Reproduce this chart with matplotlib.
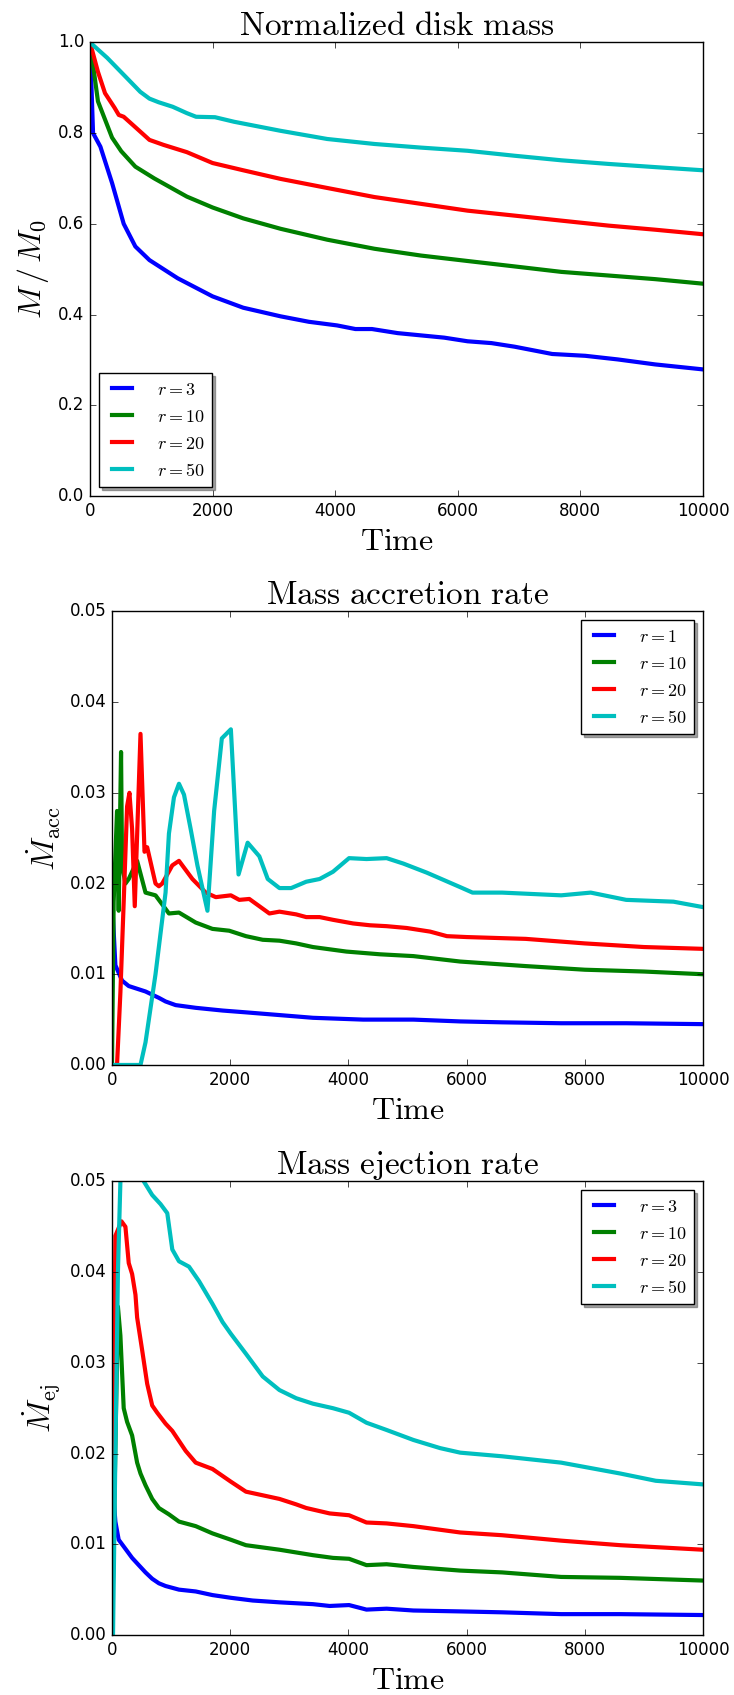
import numpy as np
import matplotlib
matplotlib.use('Agg')
import matplotlib.pyplot as plt

plt.style.use('classic')
plt.rcParams['mathtext.fontset'] = 'cm'

# ---- panel 1: normalized disk mass ----
t_m3 = [0, 50, 170, 360, 550, 740, 970, 1430, 2000, 2500, 3110, 3570, 4030, 4330,
        4600, 5020, 5780, 6160, 6550, 6930, 7540, 8080, 8610, 9220, 10000]
m3 = [1.0, 0.80, 0.77, 0.69, 0.60, 0.55, 0.52, 0.48, 0.44, 0.415, 0.396, 0.384,
      0.376, 0.368, 0.368, 0.359, 0.349, 0.341, 0.337, 0.329, 0.313, 0.309, 0.301,
      0.29, 0.279]
t_m10 = [0, 130, 360, 510, 740, 1050, 1580, 2000, 2500, 3110, 3870, 4640, 5400,
         6160, 6930, 7690, 8460, 9220, 10000]
m10 = [1.0, 0.87, 0.79, 0.76, 0.726, 0.70, 0.66, 0.636, 0.612, 0.589, 0.565, 0.545,
       0.53, 0.518, 0.506, 0.494, 0.486, 0.478, 0.468]
t_m20 = [0, 130, 245, 400, 470, 550, 740, 970, 1200, 1580, 2000, 2500, 3110, 3870,
         4640, 5400, 6160, 6930, 7690, 8460, 9220, 10000]
m20 = [1.0, 0.935, 0.888, 0.856, 0.84, 0.836, 0.813, 0.785, 0.774, 0.758, 0.734,
       0.718, 0.699, 0.679, 0.659, 0.644, 0.629, 0.618, 0.607, 0.596, 0.587, 0.577]
t_m50 = [0, 280, 590, 820, 970, 1120, 1350, 1580, 1730, 2040, 2350, 3110, 3870,
         4640, 5400, 6160, 6930, 7690, 8460, 9220, 10000]
m50 = [1.0, 0.966, 0.923, 0.891, 0.876, 0.868, 0.858, 0.844, 0.836, 0.835, 0.825,
       0.805, 0.787, 0.776, 0.768, 0.761, 0.75, 0.74, 0.732, 0.725, 0.718]

# ---- panel 2: mass accretion rate ----
t_a1 = [0, 57, 170, 283, 567, 793, 906, 1076, 1416, 1870, 2266, 2833, 3399, 4249,
        5099, 5892, 6600, 7600, 8700, 10000]
a1 = [0.0184, 0.011, 0.0093, 0.0087, 0.0081, 0.0074, 0.0070, 0.0066, 0.0063,
      0.0060, 0.0058, 0.0055, 0.0052, 0.0050, 0.0050, 0.0048, 0.0047, 0.0046,
      0.0046, 0.0045]
t_a10 = [0, 28, 85, 113, 153, 170, 227, 283, 425, 567, 736, 963, 1133, 1416, 1700,
         1983, 2266, 2550, 2833, 3116, 3399, 3966, 4533, 5099, 5892, 7000, 8000,
         9000, 10000]
a10 = [0.0, 0.018, 0.028, 0.017, 0.0345, 0.022, 0.020, 0.0205, 0.0225, 0.019,
       0.0187, 0.0167, 0.0168, 0.0157, 0.015, 0.0148, 0.0142, 0.0138, 0.0137,
       0.0134, 0.013, 0.0125, 0.0122, 0.012, 0.0114, 0.0109, 0.0105, 0.0103, 0.0100]
t_a20 = [0, 85, 142, 198, 255, 295, 340, 385, 482, 550, 595, 736, 793, 850, 1020,
         1133, 1360, 1586, 1756, 2011, 2153, 2323, 2493, 2663, 2833, 3116, 3286,
         3513, 3739, 4079, 4363, 4646, 4986, 5383, 5666, 6000, 7000, 8000, 9000,
         10000]
a20 = [0.0, 0.0, 0.008, 0.018, 0.0285, 0.030, 0.026, 0.0175, 0.0365, 0.0235,
       0.024, 0.020, 0.0197, 0.020, 0.022, 0.0225, 0.0205, 0.019, 0.0185, 0.0187,
       0.0182, 0.0183, 0.0175, 0.0167, 0.0169, 0.0166, 0.0163, 0.0163, 0.016,
       0.0156, 0.0154, 0.0153, 0.0151, 0.0147, 0.0142, 0.0141, 0.0139, 0.0134,
       0.0130, 0.0128]
t_a50 = [0, 482, 567, 736, 906, 963, 1048, 1133, 1218, 1331, 1445, 1615, 1728,
         1858, 2011, 2141, 2295, 2493, 2635, 2833, 3031, 3286, 3513, 3739, 4011,
         4306, 4646, 4929, 5326, 5892, 6100, 6600, 7600, 8100, 8700, 9500, 10000]
a50 = [0.0, 0.0, 0.0025, 0.010, 0.019, 0.0255, 0.0295, 0.031, 0.0298, 0.026,
       0.022, 0.017, 0.028, 0.036, 0.037, 0.021, 0.0245, 0.023, 0.0205, 0.0195,
       0.0195, 0.0202, 0.0205, 0.0213, 0.0228, 0.0227, 0.0228, 0.0222, 0.0212,
       0.0196, 0.019, 0.019, 0.0187, 0.019, 0.0182, 0.018, 0.0174]

# ---- panel 3: mass ejection rate ----
t_e3 = [0, 17, 57, 113, 227, 340, 453, 567, 680, 793, 906, 1133, 1416, 1700, 2011,
        2380, 2833, 3399, 3683, 4011, 4306, 4646, 5099, 5892, 6600, 7600, 8600,
        10000]
e3 = [0.0, 0.016, 0.0125, 0.0105, 0.0095, 0.0085, 0.0077, 0.0069, 0.0062, 0.0057,
      0.0054, 0.0050, 0.0048, 0.0044, 0.0041, 0.0038, 0.0036, 0.0034, 0.0032,
      0.0033, 0.0028, 0.0029, 0.0027, 0.0026, 0.0025, 0.0023, 0.0023, 0.0022]
t_e10 = [0, 100, 142, 198, 255, 340, 425, 482, 567, 680, 793, 963, 1133, 1416,
         1700, 2011, 2266, 2833, 3399, 3739, 4011, 4306, 4646, 5099, 5892, 6600,
         7600, 8600, 10000]
e10 = [0.0, 0.0362, 0.033, 0.025, 0.0235, 0.022, 0.019, 0.0178, 0.0165, 0.015,
       0.014, 0.0133, 0.0125, 0.0120, 0.0112, 0.0105, 0.0099, 0.0094, 0.0088,
       0.0085, 0.0084, 0.0077, 0.0078, 0.0075, 0.0071, 0.0069, 0.0064, 0.0063,
       0.0060]
t_e20 = [0, 57, 160, 227, 283, 340, 397, 425, 510, 595, 680, 765, 906, 1020, 1246,
         1416, 1700, 2011, 2266, 2550, 2833, 3116, 3286, 3683, 4011, 4306, 4646,
         5099, 5892, 6600, 7600, 8600, 10000]
e20 = [0.0, 0.044, 0.0456, 0.045, 0.041, 0.0398, 0.0375, 0.035, 0.0314, 0.0277,
       0.0253, 0.0245, 0.0233, 0.0225, 0.0203, 0.019, 0.0183, 0.0169, 0.0158,
       0.0154, 0.015, 0.0144, 0.014, 0.0134, 0.0132, 0.0124, 0.0123, 0.012, 0.0113,
       0.011, 0.0104, 0.0099, 0.0094]
t_e50 = [0, 17, 57, 100, 142, 300, 538, 680, 821, 935, 1020, 1133, 1303, 1473,
         1700, 1870, 2011, 2266, 2550, 2833, 3116, 3399, 3739, 4011, 4306, 4646,
         5099, 5552, 5892, 6600, 7600, 8600, 9200, 10000]
e50 = [0.0, 0.0, 0.02, 0.04, 0.05, 0.055, 0.05, 0.0485, 0.0475, 0.0465, 0.0425,
       0.0412, 0.0406, 0.039, 0.0365, 0.0345, 0.0332, 0.031, 0.0285, 0.027, 0.0261,
       0.0255, 0.025, 0.0245, 0.0234, 0.0226, 0.0215, 0.0206, 0.0201, 0.0197,
       0.019, 0.0178, 0.017, 0.0166]

colors = ['b', 'g', 'r', 'c']
lw = 3
title_fs = 24
label_fs = 23
leg_kw = dict(shadow=True, fontsize=13, handlelength=1.7, handletextpad=1.1)

fig = plt.figure(figsize=(7.34, 16.95), dpi=100, facecolor='white')

# panel 1
ax1 = fig.add_axes([0.1226, 0.7074, 0.8351, 0.2676])
for t, y, c, lab in zip([t_m3, t_m10, t_m20, t_m50], [m3, m10, m20, m50], colors,
                        ['$r=3$', '$r=10$', '$r=20$', '$r=50$']):
    ax1.plot(t, y, color=c, lw=lw, label=lab)
ax1.set_xlim(0, 10000)
ax1.set_ylim(0, 1)
ax1.set_title(r'$\mathrm{Normalized\ disk\ mass}$', fontsize=title_fs)
ax1.set_xlabel(r'$\mathrm{Time}$', fontsize=label_fs)
ax1.set_ylabel(r'$M\,/\,M_0$', fontsize=label_fs)
ax1.legend(loc='lower left', **leg_kw)

# panel 2
ax2 = fig.add_axes([0.1526, 0.3717, 0.8052, 0.2676])
for t, y, c, lab in zip([t_a1, t_a10, t_a20, t_a50], [a1, a10, a20, a50], colors,
                        ['$r=1$', '$r=10$', '$r=20$', '$r=50$']):
    ax2.plot(t, y, color=c, lw=lw, label=lab)
ax2.set_xlim(0, 10000)
ax2.set_ylim(0, 0.05)
ax2.set_title(r'$\mathrm{Mass\ accretion\ rate}$', fontsize=title_fs)
ax2.set_xlabel(r'$\mathrm{Time}$', fontsize=label_fs)
ax2.set_ylabel(r'$\dot{M}_{\rm acc}$', fontsize=label_fs)
ax2.legend(loc='upper right', **leg_kw)

# panel 3
ax3 = fig.add_axes([0.1526, 0.0354, 0.8052, 0.2676])
for t, y, c, lab in zip([t_e3, t_e10, t_e20, t_e50], [e3, e10, e20, e50], colors,
                        ['$r=3$', '$r=10$', '$r=20$', '$r=50$']):
    ax3.plot(t, y, color=c, lw=lw, label=lab)
ax3.set_xlim(0, 10000)
ax3.set_ylim(0, 0.05)
ax3.set_title(r'$\mathrm{Mass\ ejection\ rate}$', fontsize=title_fs)
ax3.set_xlabel(r'$\mathrm{Time}$', fontsize=label_fs)
ax3.set_ylabel(r'$\dot{M}_{\rm ej}$', fontsize=label_fs)
ax3.legend(loc='upper right', **leg_kw)

fig.savefig('out.png', dpi=100, facecolor='white')
